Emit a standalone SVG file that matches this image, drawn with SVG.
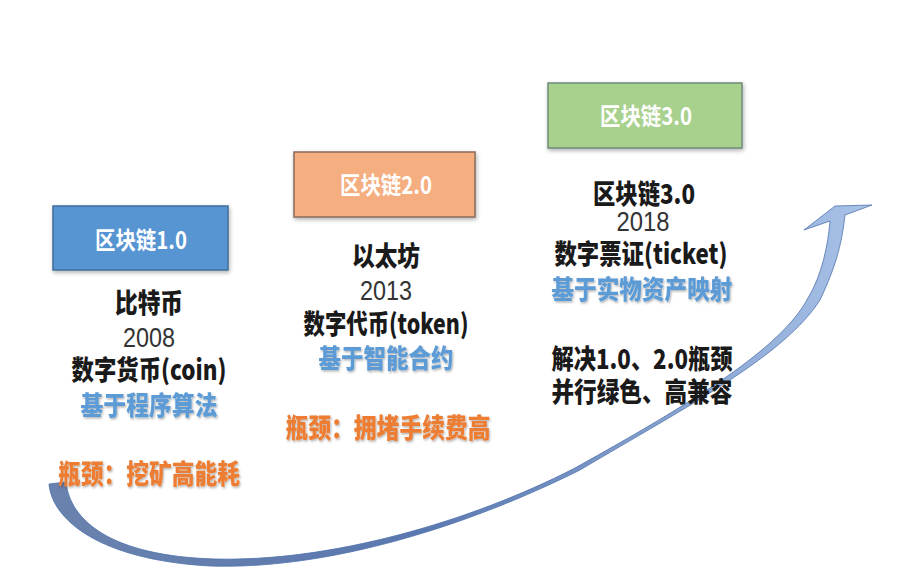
<svg xmlns="http://www.w3.org/2000/svg" width="907" height="572" viewBox="0 0 907 572">
<defs>
<linearGradient id="arrowGrad" x1="0" y1="0" x2="1" y2="0">
<stop offset="0" stop-color="#6a82ad"/>
<stop offset="0.45" stop-color="#5a78b0"/>
<stop offset="1" stop-color="#a9c3e8"/>
</linearGradient>
<filter id="boxShadow" x="-10%" y="-10%" width="120%" height="130%">
<feDropShadow dx="1" dy="2" stdDeviation="2" flood-color="#000" flood-opacity="0.3"/>
</filter>
<filter id="txtShadow" x="-5%" y="-20%" width="110%" height="150%">
<feDropShadow dx="1" dy="1.5" stdDeviation="1" flood-color="#000" flood-opacity="0.3"/>
</filter>
</defs>
<style>
text{font-family:"Noto Sans CJK SC","Noto Sans",sans-serif;text-anchor:middle;}
.hdr{font-size:24px;font-weight:bold;fill:#fff;}
.ttl{font-size:27px;font-weight:900;fill:#1a1a1a;}
.yr{font-size:27px;font-weight:normal;fill:#333;font-family:"Liberation Sans","Noto Sans",sans-serif;}
.blu{font-size:26px;font-weight:900;fill:#5b9bd5;filter:url(#txtShadow);}
.org{font-size:27px;font-weight:900;fill:#ed7d31;filter:url(#txtShadow);}
.box{stroke-width:1.5;filter:url(#boxShadow);}
</style>
<rect width="907" height="572" fill="#fff"/>
<g id="connectors">
<path d="M49,484 C52,520 100,560 210,566 C330,570 470,525 580,470 C690,405 785,355 820,300 C838,262 842,240 845,215 L872,205 L835,206 L804,230 L830,221 C828,245 822,275 808,298 C782,348 692,403 575,468 C470,522 330,562 215,559 C110,556 70,520 66,482 Z" fill="url(#arrowGrad)" stroke="#4f72ad" stroke-width="0.8"/>
</g>
<g id="node1">
<rect class="box" x="53" y="206" width="175" height="64" fill="#5694d2" stroke="#3f6e9c"/>
<text class="hdr" x="141" y="249" textLength="92" lengthAdjust="spacingAndGlyphs">区块链1.0</text>
<text class="ttl" x="149" y="313" textLength="68" lengthAdjust="spacingAndGlyphs">比特币</text>
<text class="yr" x="149" y="347" textLength="52" lengthAdjust="spacingAndGlyphs">2008</text>
<text class="ttl" x="149" y="380" textLength="155" lengthAdjust="spacingAndGlyphs">数字货币(coin)</text>
<text class="blu" x="149" y="415" textLength="137" lengthAdjust="spacingAndGlyphs">基于程序算法</text>
<text class="org" x="149" y="484" textLength="182" lengthAdjust="spacingAndGlyphs">瓶颈：挖矿高能耗</text>
</g>
<g id="node2">
<rect class="box" x="294" y="152" width="181" height="65" fill="#f4ae7f" stroke="#8a6a58"/>
<text class="hdr" x="386" y="194" textLength="92" lengthAdjust="spacingAndGlyphs">区块链2.0</text>
<text class="ttl" x="386" y="266" textLength="68" lengthAdjust="spacingAndGlyphs">以太坊</text>
<text class="yr" x="386" y="300" textLength="52" lengthAdjust="spacingAndGlyphs">2013</text>
<text class="ttl" x="386" y="334" textLength="165" lengthAdjust="spacingAndGlyphs">数字代币(token)</text>
<text class="blu" x="386" y="368" textLength="135" lengthAdjust="spacingAndGlyphs">基于智能合约</text>
<text class="org" x="388" y="438" textLength="205" lengthAdjust="spacingAndGlyphs">瓶颈：拥堵手续费高</text>
</g>
<g id="node3">
<rect class="box" x="548" y="83" width="194" height="65" fill="#a9d18e" stroke="#6e8a7a"/>
<text class="hdr" x="646" y="125" textLength="92" lengthAdjust="spacingAndGlyphs">区块链3.0</text>
<text class="ttl" x="644" y="204" textLength="102" lengthAdjust="spacingAndGlyphs" fill="#000">区块链3.0</text>
<text class="yr" x="643" y="231" textLength="53" lengthAdjust="spacingAndGlyphs">2018</text>
<text class="ttl" x="641" y="264" textLength="173" lengthAdjust="spacingAndGlyphs">数字票证(ticket)</text>
<text class="blu" x="642" y="299" textLength="181" lengthAdjust="spacingAndGlyphs">基于实物资产映射</text>
<text class="ttl" x="642" y="369" textLength="181" lengthAdjust="spacingAndGlyphs">解决1.0、2.0瓶颈</text>
<text class="ttl" x="642" y="402" textLength="181" lengthAdjust="spacingAndGlyphs">并行绿色、高兼容</text>
</g>
</svg>
